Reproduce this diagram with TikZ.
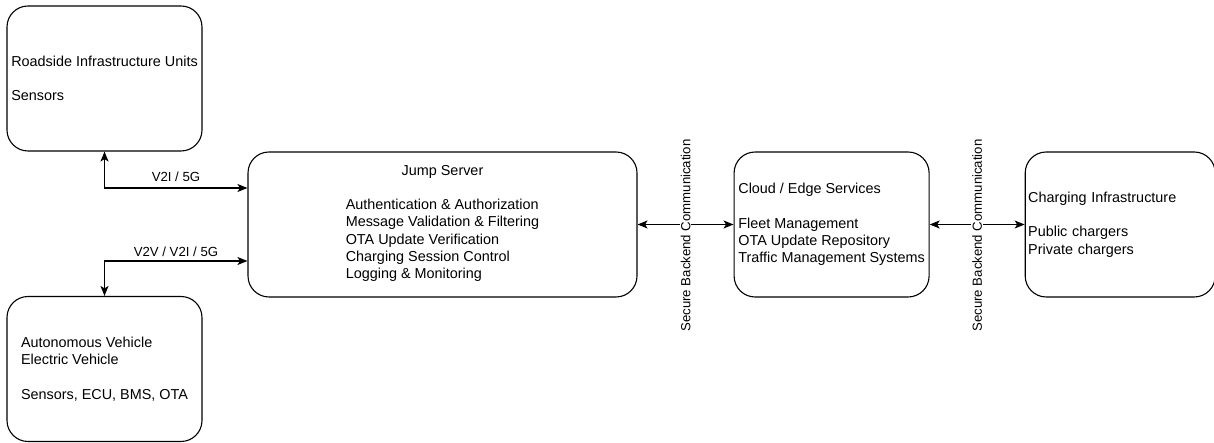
\documentclass[tikz,border=0pt]{standalone}
\usepackage{fontspec}
\setmainfont{Liberation Sans}
\usetikzlibrary{positioning}
\usetikzlibrary{arrows.meta}

\tikzset{
  box/.style={draw, line width=1.1pt, rounded corners=21pt, minimum width=195pt,
    minimum height=145pt, inner sep=3pt, align=left,
    font=\fontsize{14.4}{17.3}\selectfont},
  link/.style={<->, line width=1.1pt},
  lbl/.style={inner sep=1pt, font=\fontsize{13.2}{15.8}\selectfont},
  >={Stealth[length=10pt, width=8pt, inset=2.5pt]}
}

\begin{document}
\begin{tikzpicture}[x=1pt, y=1pt]
    \useasboundingbox (0,0) rectangle (1214,443);

    \node[box, minimum width=389pt, align=center] (js) at (442.5,218.5) {Jump Server\\[17.3pt]
      \begin{tabular}[t]{@{}l@{}}
        Authentication \& Authorization\\
        Message Validation \& Filtering\\
        OTA Update Verification\\
        Charging Session Control\\
        Logging \& Monitoring
      \end{tabular}};
    \node[box] (rsu) at (104.5,364.5) {Roadside Infrastructure Units\\[17.3pt]Sensors};
    \node[box] (av) at (104.5,74) {Autonomous Vehicle\\Electric Vehicle\\[17.3pt]Sensors, ECU, BMS, OTA};
    \node[box, right=96pt of js] (cloud) {Cloud / Edge Services\\[17.3pt]Fleet Management\\OTA Update Repository\\Traffic Management Systems};
    \node[box, right=95pt of cloud, minimum width=190pt, text width=184pt] (chg) {Charging Infrastructure\\[17.3pt]Public chargers\\Private chargers};

    % Edges
    \draw[link] (rsu.south) |- node[lbl, pos=0.75, above=5pt] {V2I / 5G} ([yshift=36.5pt]js.west);
    \draw[link] (av.north) |- node[lbl, pos=0.75, above=3pt] {V2V / V2I / 5G} ([yshift=-36.5pt]js.west);
    \draw[link] (js) -- node[lbl, fill=white, yshift=-11pt, rotate=90] {Secure Backend Communication} (cloud);
    \draw[link] (cloud) -- node[lbl, fill=white, yshift=-11pt, rotate=90] {Secure Backend Communication} (chg);
\end{tikzpicture}
\end{document}
